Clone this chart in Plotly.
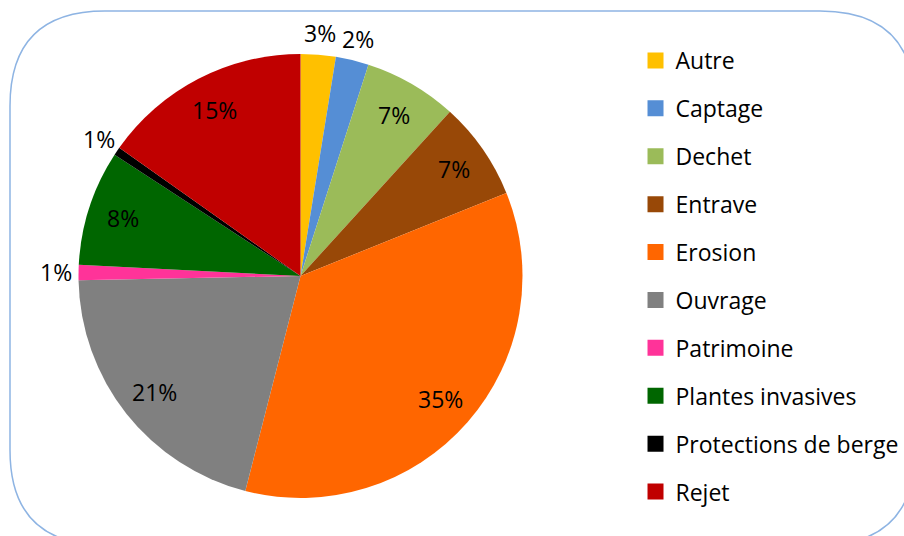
import math
import plotly.graph_objects as go

# Share of observations by category (percent)
categories = ["Autre", "Captage", "Dechet", "Entrave", "Erosion", "Ouvrage",
              "Patrimoine", "Plantes invasives", "Protections de berge", "Rejet"]
shares = [2.55, 2.4, 6.8, 7.15, 35.1, 20.7, 1.1, 8.4, 0.6, 15.2]
colors = ["#FFC000", "#558ED5", "#9BBB59", "#984807", "#FF6600", "#808080",
          "#FF3399", "#006600", "#000000", "#C00000"]
label_outside = [True, True, False, False, False, False, True, False, True, False]

W, H = 904, 536
FONT = "Open Sans"
FS = 23

# pie geometry in pixels
CX, CY, R = 300.5, 276.0, 222.0

fig = go.Figure()
fig.add_trace(go.Pie(
    labels=categories,
    values=shares,
    sort=False,
    direction="clockwise",
    rotation=0,
    marker=dict(colors=colors, line=dict(width=0)),
    textinfo="none",
    hoverinfo="label+percent",
    showlegend=False,
    domain=dict(x=[(CX - R) / W, (CX + R) / W],
                y=[1 - (CY + R) / H, 1 - (CY - R) / H]),
))

# percentage labels placed along each slice bisector
total = sum(shares)
cum = 0.0
for name, v, out in zip(categories, shares, label_outside):
    mid = (cum + v / 2) / total * 2 * math.pi
    cum += v
    f = 1.1 if out else 0.84
    px = CX + f * R * math.sin(mid)
    py = CY - f * R * math.cos(mid)
    fig.add_annotation(
        x=px / W, y=1 - py / H, xref="paper", yref="paper",
        text=f"{round(v / total * 100)}%", showarrow=False,
        font=dict(family=FONT, size=FS, color="#000000"),
        xanchor="center", yanchor="middle",
    )

# legend entries
for name, c in zip(categories, colors):
    fig.add_trace(go.Scatter(
        x=[None], y=[None], mode="markers", name=name, legendgroup=name,
        marker=dict(symbol="square", size=16, color=c),
    ))

# rounded frame
def rounded_path(x0, y0, x1, y1, r):
    def p(x, y):
        return f"{x / W:.5f},{1 - y / H:.5f}"
    return (f"M {p(x0 + r, y0)} L {p(x1 - r, y0)} "
            f"Q {p(x1, y0)} {p(x1, y0 + r)} L {p(x1, y1 - r)} "
            f"Q {p(x1, y1)} {p(x1 - r, y1)} L {p(x0 + r, y1)} "
            f"Q {p(x0, y1)} {p(x0, y1 - r)} L {p(x0, y0 + r)} "
            f"Q {p(x0, y0)} {p(x0 + r, y0)} Z")

fig.add_shape(type="path", xref="paper", yref="paper",
              path=rounded_path(10, 11, 915, 545, 95),
              line=dict(color="#8EB4E3", width=1.5))

fig.update_layout(
    width=W, height=H,
    margin=dict(l=0, r=0, t=0, b=0),
    paper_bgcolor="white", plot_bgcolor="white",
    font=dict(family=FONT, size=FS, color="#000000"),
    xaxis=dict(visible=False), yaxis=dict(visible=False),
    showlegend=True,
    legend=dict(x=0.703, y=1 - 39 / H, xanchor="left", yanchor="top",
                tracegroupgap=15, itemwidth=30,
                font=dict(family=FONT, size=FS, color="#000000"),
                bgcolor="rgba(0,0,0,0)"),
)

fig.write_html("out.html")
